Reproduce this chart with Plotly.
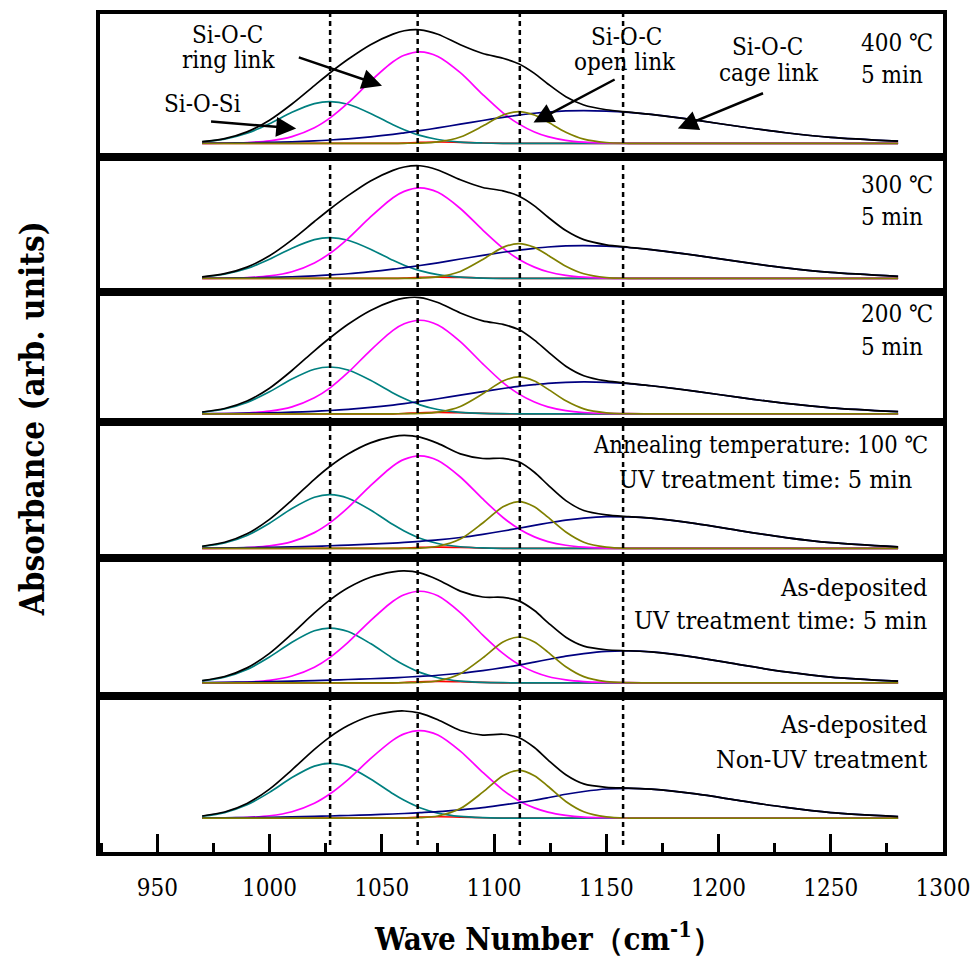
import plotly.graph_objects as go
from plotly.subplots import make_subplots

# Wavenumber sampling points (cm^-1) shared by every fitted component
wavenumber = [970, 980, 990, 1000, 1010, 1020, 1027, 1035, 1045, 1055, 1060, 1067,
              1075, 1085, 1095, 1104, 1111, 1118, 1124, 1132, 1140, 1150, 1160,
              1170, 1190, 1210, 1230, 1250, 1280]

panel_titles = [
    ["400 ℃", "5 min"],
    ["300 ℃", "5 min"],
    ["200 ℃", "5 min"],
    ["Annealing temperature: 100 ℃", "UV treatment time: 5 min"],
    ["As-deposited", "UV treatment time: 5 min"],
    ["As-deposited", "Non-UV treatment"],
]

# Fitted absorbance components (arb. units), one row per sample, top to bottom
si_o_si = [
    [1.5, 4.3, 10.2, 19.8, 31.2, 39.9, 42.0, 39.3, 30.1, 18.7, 13.7, 8.0, 3.9, 1.3, 0.4, 0.1, 0, 0, 0, 0, 0, 0, 0, 0, 0, 0, 0, 0, 0],
    [1.4, 4.2, 10.0, 19.3, 30.4, 39.0, 41.0, 38.4, 29.4, 18.2, 13.3, 7.8, 3.8, 1.3, 0.3, 0.1, 0, 0, 0, 0, 0, 0, 0, 0, 0, 0, 0, 0, 0],
    [1.6, 4.8, 11.4, 22.1, 34.9, 44.7, 47.0, 44.0, 33.7, 20.9, 15.3, 9.0, 4.3, 1.5, 0.4, 0.1, 0, 0, 0, 0, 0, 0, 0, 0, 0, 0, 0, 0, 0],
    [1.9, 5.5, 13.1, 25.4, 40.1, 51.4, 54.0, 50.5, 38.7, 24.0, 17.6, 10.3, 5.0, 1.7, 0.5, 0.1, 0, 0, 0, 0, 0, 0, 0, 0, 0, 0, 0, 0, 0],
    [1.9, 5.6, 13.4, 25.9, 40.8, 52.3, 55.0, 51.5, 39.4, 24.5, 17.9, 10.5, 5.1, 1.7, 0.5, 0.1, 0, 0, 0, 0, 0, 0, 0, 0, 0, 0, 0, 0, 0],
    [1.9, 5.6, 13.4, 25.9, 40.8, 52.3, 55.0, 51.5, 39.4, 24.5, 17.9, 10.5, 5.1, 1.7, 0.5, 0.1, 0, 0, 0, 0, 0, 0, 0, 0, 0, 0, 0, 0, 0],
]

ring_link = [
    [0.0, 0.2, 0.8, 2.5, 6.8, 15.7, 25.6, 40.6, 62.5, 82.0, 88.5, 92.0, 87.4, 71.0, 49.1, 30.7, 19.6, 11.5, 6.8, 3.1, 1.3, 0.4, 0.1, 0, 0, 0, 0, 0, 0],
    [0.0, 0.2, 0.8, 2.5, 6.7, 15.6, 25.3, 40.1, 61.8, 81.1, 87.5, 91.0, 86.5, 70.3, 48.6, 30.4, 19.3, 11.4, 6.7, 3.1, 1.3, 0.4, 0.1, 0, 0, 0, 0, 0, 0],
    [0.0, 0.2, 0.8, 2.6, 7.0, 16.1, 26.1, 41.5, 63.8, 83.8, 90.4, 94.0, 89.3, 72.6, 50.2, 31.4, 20.0, 11.8, 7.0, 3.2, 1.3, 0.4, 0.1, 0, 0, 0, 0, 0, 0],
    [0.0, 0.2, 0.8, 2.6, 6.9, 15.9, 25.9, 41.0, 63.1, 82.9, 89.5, 93.0, 88.4, 71.8, 49.7, 31.1, 19.8, 11.6, 6.9, 3.2, 1.3, 0.4, 0.1, 0, 0, 0, 0, 0, 0],
    [0.0, 0.2, 0.8, 2.5, 6.8, 15.7, 25.6, 40.6, 62.5, 82.0, 88.5, 92.0, 87.4, 70.5, 48.0, 29.5, 18.5, 10.8, 6.3, 2.9, 1.2, 0.4, 0.1, 0, 0, 0, 0, 0, 0],
    [0.0, 0.2, 0.8, 2.4, 6.5, 15.0, 24.5, 38.8, 59.8, 78.4, 84.7, 88.0, 83.6, 67.4, 46.0, 28.2, 17.6, 10.3, 6.0, 2.8, 1.1, 0.4, 0.1, 0, 0, 0, 0, 0, 0],
]

open_link = [
    [0, 0, 0, 0, 0, 0, 0, 0, 0, 0, 0.1, 0.3, 1.5, 6.4, 17.4, 28.5, 32.0, 28.5, 21.4, 11.2, 4.3, 0.9, 0.1, 0, 0, 0, 0, 0, 0],
    [0, 0, 0, 0, 0, 0, 0, 0, 0, 0, 0.1, 0.4, 1.6, 7.0, 19.0, 31.2, 35.0, 31.2, 23.4, 12.3, 4.7, 0.9, 0.1, 0, 0, 0, 0, 0, 0],
    [0, 0, 0, 0, 0, 0, 0, 0, 0, 0, 0.1, 0.4, 1.7, 7.4, 20.1, 32.9, 37.0, 32.9, 24.8, 13.0, 5.0, 1.0, 0.1, 0, 0, 0, 0, 0, 0],
    [0, 0, 0, 0, 0, 0, 0, 0, 0, 0, 0.1, 0.4, 2.2, 9.4, 25.6, 41.8, 47.0, 41.8, 31.4, 16.5, 6.3, 1.3, 0.1, 0, 0, 0, 0, 0, 0],
    [0, 0, 0, 0, 0, 0, 0, 0, 0, 0, 0.1, 0.4, 2.1, 9.2, 25.0, 41.0, 46.0, 41.0, 30.8, 16.1, 6.2, 1.2, 0.1, 0, 0, 0, 0, 0, 0],
    [0, 0, 0, 0, 0, 0, 0, 0, 0, 0, 0.1, 0.5, 2.2, 9.6, 26.1, 42.7, 48.0, 42.7, 32.1, 16.8, 6.5, 1.3, 0.1, 0, 0, 0, 0, 0, 0],
]

cage_link = [
    [0.2, 0.3, 0.6, 1.0, 1.6, 2.5, 3.4, 4.6, 6.6, 9.1, 10.6, 12.8, 15.5, 19.3, 23.0, 26.2, 28.4, 30.3, 31.5, 32.6, 33.0, 32.5, 31.2, 29.1, 23.3, 16.7, 10.7, 6.1, 2.2],
    [0.2, 0.4, 0.6, 1.0, 1.7, 2.6, 3.5, 4.7, 6.8, 9.3, 10.8, 13.0, 15.7, 19.5, 23.1, 26.3, 28.5, 30.3, 31.6, 32.7, 33.0, 32.5, 31.1, 29.0, 23.2, 16.6, 10.6, 6.0, 2.1],
    [0.2, 0.3, 0.6, 1.0, 1.6, 2.5, 3.3, 4.5, 6.4, 8.8, 10.2, 12.4, 15.1, 18.7, 22.3, 25.4, 27.6, 29.3, 30.6, 31.6, 32.0, 31.6, 30.3, 28.2, 22.6, 16.2, 10.4, 6.0, 2.1],
    [0.3, 0.5, 0.8, 1.2, 1.6, 2.2, 2.7, 3.4, 4.3, 5.4, 6.1, 7.2, 8.6, 11.0, 14.2, 17.5, 20.3, 23.2, 25.6, 28.4, 30.5, 32.0, 31.7, 30.4, 25.0, 17.6, 10.9, 5.8, 1.6],
    [0.3, 0.5, 0.8, 1.2, 1.6, 2.2, 2.7, 3.3, 4.1, 5.0, 5.6, 6.5, 7.6, 9.6, 12.3, 15.2, 17.8, 20.8, 23.4, 26.8, 29.4, 31.6, 32.0, 31.0, 25.6, 18.0, 11.0, 5.8, 1.6],
    [0.3, 0.4, 0.6, 0.9, 1.3, 1.8, 2.2, 2.7, 3.4, 4.2, 4.7, 5.5, 6.5, 8.3, 10.5, 13.3, 15.5, 18.0, 20.5, 24.0, 26.8, 29.3, 30.0, 29.2, 24.4, 17.4, 10.8, 5.6, 1.6],
]

# Weak residual band near 1075 cm^-1 (same for every sample)
minor_band = [0, 0, 0, 0, 0, 0, 0, 0, 0, 0, 0.3, 1.0, 1.4, 1.1, 0.4, 0, 0, 0, 0, 0, 0, 0, 0, 0, 0, 0, 0, 0, 0]

# Reference band positions (cm^-1) marked with dotted lines
peak_positions = [1027, 1066, 1111.5, 1157.5]

x_ticks = [950, 1000, 1050, 1100, 1150, 1200, 1250, 1300]

# ---------------------------------------------------------------- layout
W, H = 980, 961
L, R, T, B = 100, 946, 10, 852          # plot-area edges in pixels
X_RANGE = [924.5, 1300]
edges = [10, 154, 289, 420, 557, 695, 852]
baselines = [140, 275.7, 411.7, 547, 682, 818]
SERIF = "DejaVu Serif Condensed, DejaVu Serif, serif"


def fx(px):
    return (px - L) / (R - L)


def fy(py):
    return (B - py) / (B - T)


fig = make_subplots(rows=6, cols=1, shared_xaxes=True, vertical_spacing=0)

colors = {
    "total": "#000000",
    "si_o_si": "#008080",
    "ring": "#ff00ff",
    "open": "#808000",
    "cage": "#000080",
    "minor": "#ff0000",
}

for i in range(6):
    row = i + 1
    total = [a + b + c + d + e for a, b, c, d, e in
             zip(si_o_si[i], ring_link[i], open_link[i], cage_link[i], minor_band)]
    series = [
        (minor_band, colors["minor"]),
        (si_o_si[i], colors["si_o_si"]),
        (ring_link[i], colors["ring"]),
        (cage_link[i], colors["cage"]),
        (open_link[i], colors["open"]),
        (total, colors["total"]),
    ]
    for ys, col in series:
        fig.add_trace(
            go.Scatter(x=wavenumber, y=ys, mode="lines",
                       line=dict(color=col, width=1.7, shape="spline", smoothing=0.8),
                       showlegend=False, hoverinfo="skip"),
            row=row, col=1,
        )

    top_px, bot_px = edges[i], edges[i + 1]
    base = baselines[i]
    fig.update_yaxes(
        row=row, col=1,
        domain=[fy(bot_px), fy(top_px)],
        range=[-(bot_px - base), base - top_px],
        showline=True, mirror=True, linewidth=4, linecolor="black",
        showticklabels=False, ticks="", showgrid=False, zeroline=False,
    )
    fig.update_xaxes(
        row=row, col=1,
        range=X_RANGE,
        showline=True, mirror=True, linewidth=4, linecolor="black",
        showgrid=False, zeroline=False, ticks="",
    )

fig.update_xaxes(
    row=6, col=1,
    ticks="inside", ticklen=18, tickwidth=3, tickcolor="black",
    tickvals=x_ticks, ticktext=[str(v) for v in x_ticks],
    showticklabels=True,
    tickfont=dict(family=SERIF, size=24, color="black"),
    ticklabelstandoff=11,
    minor=dict(ticks="inside", ticklen=9, tickwidth=3, tickcolor="black", dtick=25, tick0=950),
)

# dotted reference lines through all panels
for p in peak_positions:
    fig.add_shape(type="line", xref="x6", yref="paper", x0=p, x1=p,
                  y0=fy(845), y1=1.0,
                  line=dict(color="black", width=2.5, dash="5px,4px"))

annotations = []


def text(s, x, y, xanchor="center", size=24, bold=False, angle=0):
    annotations.append(dict(
        text=(f"<b>{s}</b>" if bold else s), xref="paper", yref="paper",
        x=fx(x), y=fy(y), xanchor=xanchor, yanchor="middle", showarrow=False,
        textangle=angle, font=dict(family=SERIF, size=size, color="black")))


# panel captions
line_y = [(39, 71), (182, 214), (311, 345), (443, 478), (586, 619), (724, 759)]
for i, (l1, l2) in enumerate(panel_titles):
    y1, y2 = line_y[i]
    if i < 3:
        text(l1, 862, y1, "left")
        text(l2, 862, y2, "left")
    elif i == 3:
        text(l1, 763, y1, size=23.5)
        text(l2, 768, y2, size=25)
    else:
        text(l1, 932, y1, "right", size=25)
        text(l2, 932, y2, "right", size=25)

# component labels in the top panel
text("Si-O-C", 228, 31)
text("ring link", 229, 56)
text("Si-O-Si", 203, 100)
text("Si-O-C", 628, 33)
text("open link", 627, 58)
text("Si-O-C", 770, 43)
text("cage link", 771, 69)

# arrows (head, tail) in top-panel data coordinates
arrows = [
    ((1050.1, 58), (1012.4, 87)),
    ((1011.9, 15), (973.3, 22)),
    ((1117.6, 21), (1154.4, 65)),
    ((1181.9, 15), (1220.5, 51)),
]
for (hx, hy), (tx, ty) in arrows:
    annotations.append(dict(
        x=hx, y=hy, xref="x", yref="y", ax=tx, ay=ty, axref="x", ayref="y",
        text="", showarrow=True, arrowhead=2, arrowsize=1.6, arrowwidth=2.5,
        arrowcolor="black", standoff=0))

# axis titles
text("Absorbance (arb. units)", 32, 417, size=33, bold=True, angle=-90)
text("Wave Number（cm<sup>-1</sup>）", 550, 937, size=31, bold=True)

fig.update_layout(
    width=W, height=H,
    margin=dict(l=L, r=W - R, t=T, b=H - B, pad=0),
    paper_bgcolor="white", plot_bgcolor="white",
    showlegend=False,
    annotations=annotations,
)

fig.write_html("out.html")
